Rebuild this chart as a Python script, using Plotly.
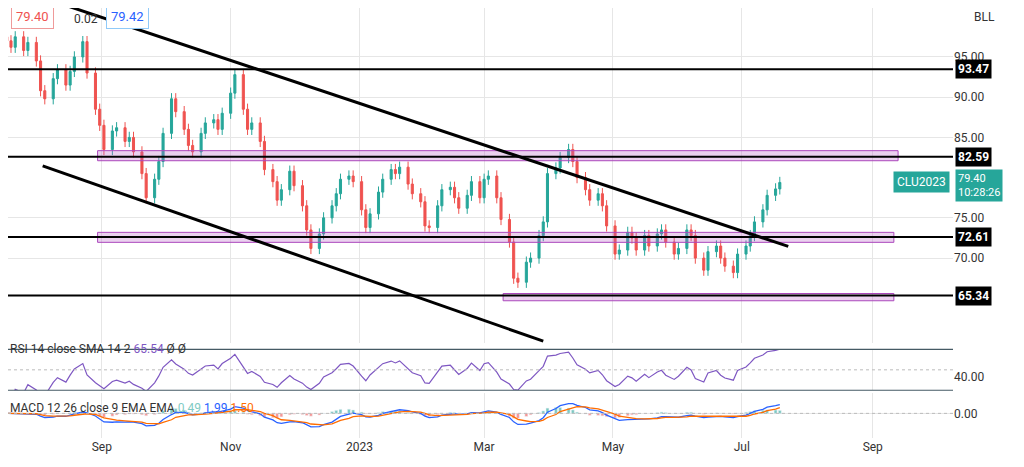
import pandas as pd
import numpy as np
import plotly.graph_objects as go
from plotly.subplots import make_subplots

closes = [97.0, 96.2, 97.5, 95.8, 96.8,
          94.5, 90.8, 89.8, 92.3, 93.4, 91.5, 93.2, 95.0, 96.9, 93.0, 88.5,
          86.5, 83.5, 85.8, 86.2, 84.5, 85.0, 83.2, 80.5, 77.5, 79.8, 82.0,
          85.5, 89.8, 88.2, 86.0, 84.0, 83.2, 85.5, 86.8, 87.2, 86.0, 88.0,
          90.5, 92.8, 88.5, 86.0, 86.8, 84.5, 81.0, 79.5, 77.2, 78.5, 80.8,
          79.0, 76.5, 73.5, 71.2, 73.0, 75.0, 76.5, 78.0, 79.8, 80.2, 79.5,
          76.0, 73.8, 75.5, 78.2, 79.8, 81.0, 80.5, 81.3, 79.2, 78.0, 77.0,
          74.0, 73.8, 76.5, 78.5, 78.8, 77.5, 76.2, 77.8, 79.5, 77.5,
          79.8, 80.2, 77.5, 74.8, 72.0, 67.5, 67.0, 69.5, 70.0, 72.8, 74.5,
          80.5, 81.2, 82.5, 83.5, 82.0, 80.0, 78.5, 77.2, 78.0, 76.5,
          74.0, 70.5, 71.0, 73.2, 72.5, 71.0, 72.8, 71.5, 73.0, 73.5, 72.0,
          70.5, 71.2, 73.5, 72.8, 70.0, 68.5, 70.8, 71.5, 70.0, 69.0, 68.2,
          70.5, 71.5, 72.8, 74.5, 76.0, 77.8, 78.6, 79.4]
levels = [93.47, 82.59, 72.61, 65.34]
tick_vals = ["2022-09-01", "2022-11-01", "2023-01-01", "2023-03-01", "2023-05-01", "2023-07-01", "2023-09-01"]
tick_text = ["Sep", "Nov", "2023", "Mar", "May", "Jul", "Sep"]
zones = [("2022-08-30", "2023-09-13", 82.1, 83.35), ("2022-08-30", "2023-09-11", 71.96, 73.2), ("2023-03-10", "2023-09-11", 64.7, 65.6)]
trend_lines = [("2022-08-07", 102.1, "2023-07-23", 71.45), ("2022-08-04", 81.46, "2023-03-29", 59.68)]

dates = pd.bdate_range("2022-07-18", periods=2 * len(closes))[::2]
c = np.array(closes)
o = np.concatenate([[c[0] + 0.5], c[:-1]])
h = np.maximum(o, c) + 0.7
l = np.minimum(o, c) - 0.7

s = pd.Series(c)
d = s.diff()
up = d.clip(lower=0).ewm(alpha=1/7, adjust=False).mean()
dn = (-d.clip(upper=0)).ewm(alpha=1/7, adjust=False).mean()
rsi = 100 - 100 / (1 + up / dn.replace(0, 1e-9))
macd = s.ewm(span=6).mean() - s.ewm(span=13).mean()
sig = macd.ewm(span=5).mean()
hist = macd - sig

fig = make_subplots(rows=3, cols=1, shared_xaxes=True, vertical_spacing=0.0)
fig.add_trace(go.Candlestick(x=dates, open=o, high=h, low=l, close=c,
    increasing=dict(line=dict(color="#26a69a", width=1), fillcolor="#26a69a"),
    decreasing=dict(line=dict(color="#ef5350", width=1), fillcolor="#ef5350"),
    whiskerwidth=0, showlegend=False), row=1, col=1)
fig.add_trace(go.Scatter(x=dates, y=rsi, mode="lines", line=dict(color="#7e57c2", width=1.2), showlegend=False), row=2, col=1)
fig.add_trace(go.Bar(x=dates, y=hist, marker_color=["#26a69a" if v >= 0 else "#ef5350" for v in hist], opacity=0.6, showlegend=False), row=3, col=1)
fig.add_trace(go.Scatter(x=dates, y=macd, mode="lines", line=dict(color="#2962ff", width=1.3), showlegend=False), row=3, col=1)
fig.add_trace(go.Scatter(x=dates, y=sig, mode="lines", line=dict(color="#ff6d00", width=1.3), showlegend=False), row=3, col=1)

for x0, x1, y0, y1 in zones:
    fig.add_shape(type="rect", x0=x0, x1=x1, y0=y0, y1=y1, xref="x", yref="y",
                  fillcolor="rgba(186,104,200,0.3)", line=dict(color="#ab47bc", width=1))
for lv in levels:
    fig.add_shape(type="line", x0=0, x1=1, xref="paper", y0=lv, y1=lv, yref="y", line=dict(color="black", width=2))
    fig.add_annotation(x=1.002, xref="paper", y=lv, yref="y", text="<b>%.2f</b>" % lv, showarrow=False, xanchor="left",
                       bgcolor="black", font=dict(color="white", size=12), borderpad=2)
for x0, y0, x1, y1 in trend_lines:
    fig.add_shape(type="line", x0=x0, y0=y0, x1=x1, y1=y1, xref="x", yref="y", line=dict(color="black", width=3))
for yv in [0.111, 0.206]:
    fig.add_shape(type="line", x0=0, x1=1, xref="paper", y0=yv, y1=yv, yref="paper", line=dict(color="#455a64", width=1.2))

fig.add_annotation(x=1.002, xref="paper", y=79.0, yref="y", text="79.40<br>10:28:26", showarrow=False, xanchor="left",
                   bgcolor="#26a69a", font=dict(color="white", size=11), borderpad=2, align="left")
fig.add_annotation(x=0.997, xref="paper", y=79.4, yref="y", text="CLU2023", showarrow=False, xanchor="right",
                   bgcolor="#26a69a", font=dict(color="white", size=12), borderpad=3)
fig.add_annotation(x=0.003, xref="paper", y=1.01, yref="paper", text="79.40", showarrow=False, xanchor="left", yanchor="top",
                   bgcolor="white", bordercolor="#ef9a9a", borderwidth=1, borderpad=4, font=dict(color="#ef5350", size=13))
fig.add_annotation(x=0.068, xref="paper", y=0.995, yref="paper", text="0.02", showarrow=False, xanchor="left", yanchor="top",
                   font=dict(color="#333", size=12))
fig.add_annotation(x=0.104, xref="paper", y=1.01, yref="paper", text="79.42", showarrow=False, xanchor="left", yanchor="top",
                   bgcolor="white", bordercolor="#90caf9", borderwidth=1, borderpad=4, font=dict(color="#2962ff", size=13))
fig.add_annotation(x=1.02, xref="paper", y=1.0, yref="paper", text="BLL", showarrow=False, xanchor="left", yanchor="top",
                   font=dict(color="#333", size=12))
fig.add_annotation(x=0.0, xref="paper", y=0.185, yref="paper", showarrow=False, xanchor="left",
                   text="RSI 14 close SMA 14 2 <span style='color:#7e57c2'>65.54</span> Ø Ø", font=dict(color="#333", size=12))
fig.add_annotation(x=0.0, xref="paper", y=0.048, yref="paper", showarrow=False, xanchor="left",
                   text="MACD 12 26 close 9 EMA EMA <span style='color:#80cbc4'>0.49</span> <span style='color:#2962ff'>1.99</span> <span style='color:#ff6d00'>1.50</span>",
                   font=dict(color="#333", size=12))

ax = dict(showgrid=True, gridcolor="#e6e6e6", zeroline=False, showline=False, tickfont=dict(color="#333", size=12))
fig.update_xaxes(**ax, range=["2022-07-18 14:00", "2023-10-09"], rangeslider_visible=False, tickvals=tick_vals, ticktext=tick_text)
fig.update_xaxes(showticklabels=True, row=3, col=1)
fig.update_yaxes(**ax, side="right", ticks="", tickformat=".2f")
fig.update_yaxes(range=[59.4, 101.08], tickvals=[70, 75, 85, 90, 95], domain=[0.22, 1], row=1, col=1)
fig.update_yaxes(range=[20, 80], tickvals=[40], showgrid=False, domain=[0.111, 0.206], row=2, col=1)
fig.update_yaxes(range=[-6, 5], tickvals=[0], domain=[0, 0.105], row=3, col=1)
fig.add_hline(y=50, line=dict(color="#bbb", dash="dot", width=1), row=2, col=1)
fig.add_hline(y=0, line=dict(color="#bbb", dash="dot", width=1), row=3, col=1)
fig.update_layout(width=1016, height=459, margin=dict(l=0, r=71, t=0, b=29),
                  paper_bgcolor="white", plot_bgcolor="white", font=dict(family="Roboto"), bargap=0.3)
fig.write_html("out.html")
